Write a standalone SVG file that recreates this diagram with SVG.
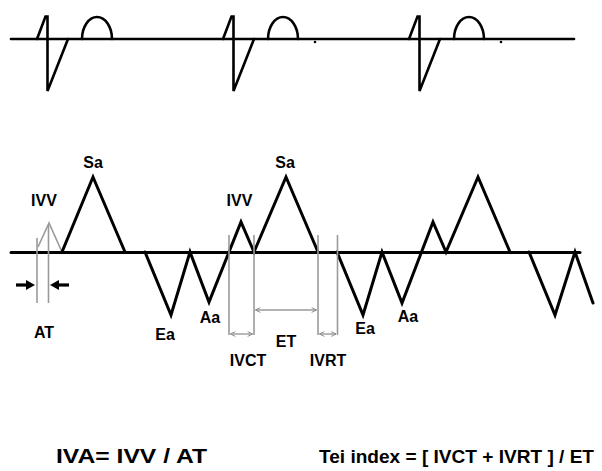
<svg xmlns="http://www.w3.org/2000/svg" width="602" height="471" viewBox="0 0 602 471">
<style>
.ink{fill:none;stroke:#000;stroke-width:2.6;stroke-linejoin:miter;stroke-linecap:round}
.wave{fill:none;stroke:#000;stroke-width:3;stroke-linejoin:miter;stroke-linecap:round}
.gray{fill:none;stroke:#9a9a9a;stroke-width:1.6}
.dim{fill:none;stroke:#9a9a9a;stroke-width:1.4;marker-start:url(#ah);marker-end:url(#ah)}
.blk{stroke:#000;stroke-width:3.2}
.lbl{font-family:"Liberation Sans",Arial,sans-serif;font-weight:bold;font-size:16px;fill:#000;text-anchor:middle}
.frm{font-family:"Liberation Sans",Arial,sans-serif;font-weight:bold;font-size:21px;fill:#000}
.frm2{font-family:"Liberation Sans",Arial,sans-serif;font-weight:bold;font-size:19px;fill:#000}
</style>
<defs>
<marker id="ah" viewBox="0 0 10 10" refX="9" refY="5" markerWidth="6" markerHeight="6" markerUnits="userSpaceOnUse" orient="auto-start-reverse">
<path d="M1,1 L9,5 L1,9" fill="none" stroke="#8a8a8a" stroke-width="1.6"/>
</marker>
<g id="beat">
<path class="ink" d="M37,39 L45.5,16.5 L47.5,16.5 L47.5,91 L68,39"/>
<path class="ink" d="M82,39 A15,22 0 0 1 112,39"/>
</g>
</defs>

<g id="ecg">
<line class="ink" x1="11" y1="39" x2="574" y2="39"/>
<use href="#beat"/>
<use href="#beat" x="186"/>
<use href="#beat" x="372"/>
<circle cx="315" cy="42" r="1.3" fill="#000"/>
<circle cx="501" cy="42" r="1.3" fill="#000"/>
</g>

<g id="doppler-wave">
<line class="wave" x1="11" y1="252.5" x2="580" y2="252.5"/>
<polyline class="gray" points="38,247 49,223 62,252"/>
<polyline class="wave" points="62,252 93,177 125,252"/>
<polyline class="wave" points="145,252 171,315 190,252 209,302 241,222 254,252 286,177 318,252"/>
<polyline class="wave" points="337,252 363,315 382,252 402,303 433,222 446,252 478,177 510,252"/>
<polyline class="wave" points="529,252 555,315 575,252 593,303"/>
</g>

<g id="connectors">
<line class="gray" x1="37" y1="238" x2="37" y2="303"/>
<line class="gray" x1="48.5" y1="225" x2="48.5" y2="303"/>
<line class="blk" x1="16" y1="285" x2="28" y2="285"/>
<polygon points="26,280 35,285 26,290" fill="#000"/>
<line class="blk" x1="69" y1="285" x2="57" y2="285"/>
<polygon points="59,280 50,285 59,290" fill="#000"/>
<line class="gray" x1="229" y1="235" x2="229" y2="335"/>
<line class="gray" x1="254" y1="235" x2="254" y2="335"/>
<line class="gray" x1="318" y1="235" x2="318" y2="335"/>
<line class="gray" x1="337.5" y1="235" x2="337.5" y2="335"/>
<line class="dim" x1="230.5" y1="334" x2="252.5" y2="334"/>
<line class="dim" x1="255.5" y1="310" x2="316.5" y2="310"/>
<line class="dim" x1="319.5" y1="334" x2="336" y2="334"/>
</g>

<g id="labels">
<text class="lbl" x="93" y="168">Sa</text>
<text class="lbl" x="44" y="206">IVV</text>
<text class="lbl" x="44" y="338">AT</text>
<text class="lbl" x="165" y="340">Ea</text>
<text class="lbl" x="210" y="323">Aa</text>
<text class="lbl" x="239.5" y="206">IVV</text>
<text class="lbl" x="285" y="168">Sa</text>
<text class="lbl" x="286" y="347">ET</text>
<text class="lbl" x="248" y="366">IVCT</text>
<text class="lbl" x="328" y="366">IVRT</text>
<text class="lbl" x="365" y="334">Ea</text>
<text class="lbl" x="408" y="322">Aa</text>
</g>

<g id="formulas">
<text class="frm" x="56" y="463" textLength="151" lengthAdjust="spacingAndGlyphs">IVA= IVV / AT</text>
<text class="frm2" x="319" y="463" textLength="275" lengthAdjust="spacingAndGlyphs">Tei index = [ IVCT + IVRT ] / ET</text>
</g>
</svg>
